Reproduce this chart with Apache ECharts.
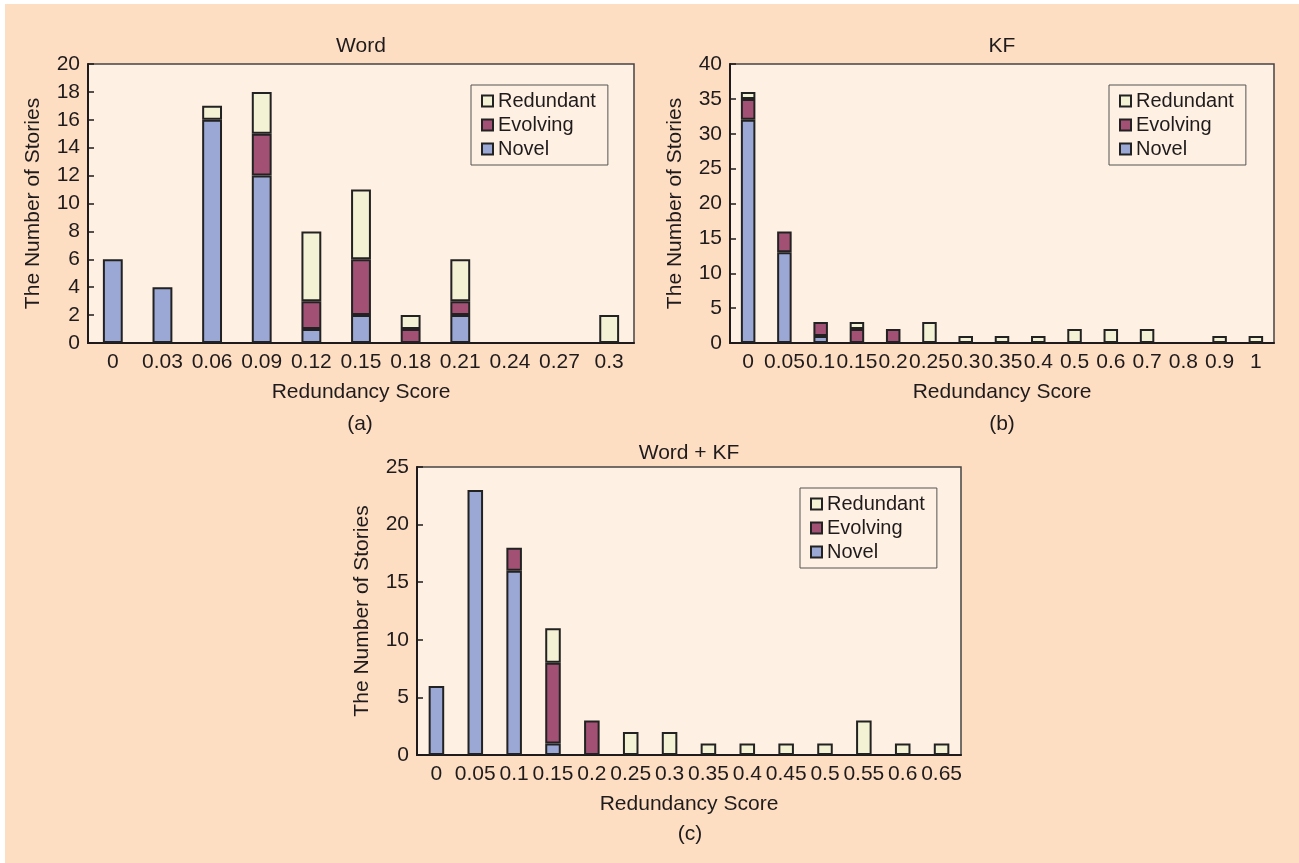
<!DOCTYPE html>
<html>
<head>
<meta charset="utf-8">
<script src="https://cdn.jsdelivr.net/npm/echarts@6/dist/echarts.min.js"></script>
<style>
  html, body { margin: 0; padding: 0; background: #ffffff; }
  #chart { position: absolute; left: 5px; top: 4px; width: 1294px; height: 859px; }
</style>
</head>
<body>
<div id="chart"></div>
<script>
// (a) Word
const wordCats = ['0', '0.03', '0.06', '0.09', '0.12', '0.15', '0.18', '0.21', '0.24', '0.27', '0.3']
const wordNovel = [6, 4, 16, 12, 1, 2, 0, 2, 0, 0, 0]
const wordEvolving = [0, 0, 0, 3, 2, 4, 1, 1, 0, 0, 0]
const wordRedundant = [0, 0, 1, 3, 5, 5, 1, 3, 0, 0, 2]

// (b) KF
const kfCats = ['0', '0.05', '0.1', '0.15', '0.2', '0.25', '0.3', '0.35', '0.4', '0.5', '0.6', '0.7', '0.8', '0.9', '1']
const kfNovel = [32, 13, 1, 0, 0, 0, 0, 0, 0, 0, 0, 0, 0, 0, 0]
const kfEvolving = [3, 3, 2, 2, 2, 0, 0, 0, 0, 0, 0, 0, 0, 0, 0]
const kfRedundant = [1, 0, 0, 1, 0, 3, 1, 1, 1, 2, 2, 2, 0, 1, 1]

// (c) Word + KF
const bothCats = ['0', '0.05', '0.1', '0.15', '0.2', '0.25', '0.3', '0.35', '0.4', '0.45', '0.5', '0.55', '0.6', '0.65']
const bothNovel = [6, 23, 16, 1, 0, 0, 0, 0, 0, 0, 0, 0, 0, 0]
const bothEvolving = [0, 0, 2, 7, 3, 0, 0, 0, 0, 0, 0, 0, 0, 0]
const bothRedundant = [0, 0, 0, 3, 0, 2, 2, 1, 1, 1, 1, 3, 1, 1]

const FONT = "'Liberation Sans', Arial, sans-serif"
const TEXT = '#1f1b1c'
const colors = { Novel: '#9ba8d6', Evolving: '#a25175', Redundant: '#f4f2d5' }

const grids = [
  { left: 83, top: 60, width: 546, height: 279 },
  { left: 725, top: 60, width: 544, height: 279 },
  { left: 412, top: 463, width: 544, height: 288 }
]
const yRanges = [
  { max: 20, interval: 2 },
  { max: 40, interval: 5 },
  { max: 25, interval: 5 }
]
const catsList = [wordCats, kfCats, bothCats]
const seriesData = [
  [wordNovel, wordEvolving, wordRedundant],
  [kfNovel, kfEvolving, kfRedundant],
  [bothNovel, bothEvolving, bothRedundant]
]
const legendPos = [
  { left: 466, top: 81 },
  { left: 1104, top: 81 },
  { left: 795, top: 484 }
]

const xAxis = []
const yAxis = []
const series = []
const legend = []
grids.forEach((g, i) => {
  xAxis.push({
    type: 'category',
    gridIndex: i,
    data: catsList[i],
    name: 'Redundancy Score',
    nameLocation: 'middle',
    nameGap: 39,
    nameTextStyle: { fontSize: 21, color: TEXT, fontFamily: FONT },
    axisLine: { lineStyle: { color: TEXT, width: 2 } },
    axisTick: { inside: true, length: 5, lineStyle: { color: TEXT, width: 1.5 } },
    axisLabel: { interval: 0, margin: 9, fontSize: 21, color: TEXT, fontFamily: FONT }
  })
  yAxis.push({
    type: 'value',
    gridIndex: i,
    min: 0,
    max: yRanges[i].max,
    interval: yRanges[i].interval,
    name: 'The Number of Stories',
    nameLocation: 'middle',
    nameGap: 44,
    nameTextStyle: { fontSize: 21, color: TEXT, fontFamily: FONT },
    axisLine: { show: true, lineStyle: { color: TEXT, width: 2 } },
    axisTick: { show: true, inside: true, length: 6, lineStyle: { color: TEXT, width: 1.5 } },
    splitLine: { show: false },
    axisLabel: { margin: 8, fontSize: 21, color: TEXT, fontFamily: FONT }
  })
  const names = ['Novel', 'Evolving', 'Redundant']
  names.forEach((name, k) => {
    series.push({
      name: name,
      type: 'bar',
      xAxisIndex: i,
      yAxisIndex: i,
      stack: 'total' + i,
      barWidth: '40%',
      itemStyle: { color: colors[name], borderColor: '#222', borderWidth: 2 },
      data: seriesData[i][k].map(v => (v === 0 ? '-' : v))
    })
  })
  legend.push({
    orient: 'vertical',
    left: legendPos[i].left,
    top: legendPos[i].top,
    data: ['Redundant', 'Evolving', 'Novel'],
    icon: 'rect',
    itemWidth: 11,
    itemHeight: 11,
    itemGap: 4,
    padding: [6, 12, 6, 10],
    borderColor: '#555',
    borderWidth: 1,
    selectedMode: false,
    textStyle: { fontSize: 20, color: TEXT, fontFamily: FONT }
  })
})

function label(text, x, y) {
  return {
    type: 'text',
    x: x,
    y: y,
    style: {
      text: text,
      align: 'center',
      verticalAlign: 'middle',
      fontSize: 21,
      fontFamily: FONT,
      fill: TEXT
    }
  }
}

const option = {
  backgroundColor: '#fddec3',
  animation: false,
  grid: grids.map(g => Object.assign({
    show: true,
    backgroundColor: '#fef0e2',
    borderColor: '#444',
    borderWidth: 1.5
  }, g)),
  xAxis: xAxis,
  yAxis: yAxis,
  legend: legend,
  series: series,
  graphic: [
    label('Word', 356, 42),
    label('KF', 997, 42),
    label('Word + KF', 684, 449),
    label('(a)', 355, 420),
    label('(b)', 997, 420),
    label('(c)', 685, 830)
  ]
}

const myChart = echarts.init(document.getElementById('chart'))
myChart.setOption(option)
</script>
</body>
</html>
